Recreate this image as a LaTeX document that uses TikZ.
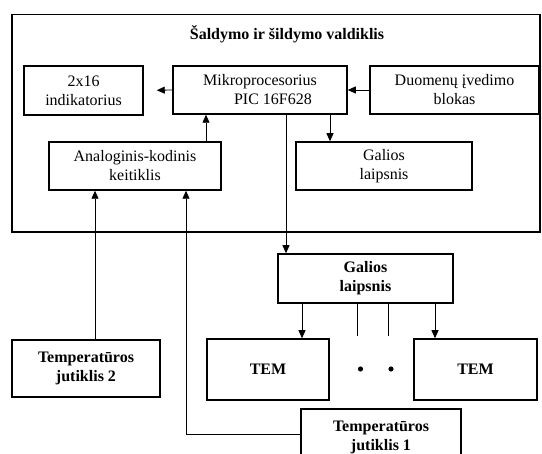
\documentclass[tikz,border=0pt]{standalone}
\usepackage{fontspec}
\setmainfont{Liberation Serif}
\usetikzlibrary{arrows.meta}
\begin{document}
\begin{tikzpicture}[x=1pt,y=-1pt]
  \tikzstyle{block}=[draw,line width=1.5pt,align=center,inner sep=0pt,
    font=\fontsize{16}{19}\selectfont]
  \tikzstyle{bblock}=[block,font=\fontsize{16}{19}\selectfont\bfseries]
  \tikzstyle{link}=[line width=0.8pt,-{Triangle[length=8pt,width=7pt]}]
  \useasboundingbox (0,0) rectangle (542,454);
  % controller frame
  \node[draw,line width=1.5pt,inner sep=0pt,minimum width=528pt,
    minimum height=217.5pt] (ctrl) at (276,123.25) {};
  \node[font=\fontsize{16}{19}\selectfont\bfseries] (title) at (287,34)
    {Šaldymo ir šildymo valdiklis};
  \node[block,minimum width=119pt,minimum height=49pt] (disp) at (83.5,90.5)
    {2x16\\indikatorius};
  \node[block,minimum width=174pt,minimum height=48pt] (mcu) at (260,90)
    {Mikroprocesorius\\\hspace*{26pt}PIC 16F628};
  \node[block,minimum width=169pt,minimum height=48pt] (input) at (454.5,90)
    {Duomenų įvedimo\\blokas};
  \node[block,minimum width=172pt,minimum height=48pt] (adc) at (135,166)
    {Analoginis-kodinis\\keitiklis};
  \node[block,minimum width=176pt,minimum height=48pt] (pwrin) at (384,166)
    {Galios\\laipsnis};
  % outside the controller
  \node[bblock,minimum width=175pt,minimum height=49pt] (pwr) at (365.5,278.5)
    {Galios\\laipsnis};
  \node[bblock,minimum width=122pt,minimum height=61pt] (teml) at (268,369.5) {TEM};
  \node[bblock,minimum width=123pt,minimum height=61pt] (temr) at (475.5,369.5) {TEM};
  \node[bblock,minimum width=148pt,minimum height=57pt] (sens2) at (86,368.5)
    {Temperatūros\\jutiklis 2};
  \node[bblock,minimum width=160pt,minimum height=57pt] (sens1) at (381,437.5)
    {Temperatūros\\jutiklis 1};
  \coordinate (stub1) at (357,336);
  \coordinate (stub2) at (388,336);
  % connectors
  \draw[link,shorten >=13pt] (mcu.west) -- (disp.east);
  \draw[link] (input.west) -- (mcu.east);
  \draw[link] ([xshift=71pt]adc.north) -- ([xshift=71pt]adc.north |- mcu.south);
  \draw[link] ([xshift=70pt]mcu.south) -- ([xshift=70pt]mcu.south |- pwrin.north);
  \draw[link] ([xshift=26pt]mcu.south) -- ([xshift=26pt]mcu.south |- pwr.north);
  \draw[link] ([xshift=34pt]teml.north |- pwr.south) -- ([xshift=34pt]teml.north);
  \draw[link] ([xshift=-40.5pt]temr.north |- pwr.south) -- ([xshift=-40.5pt]temr.north);
  \draw[line width=0.8pt] (stub1 |- pwr.south) -- (stub1);
  \draw[line width=0.8pt] (stub2 |- pwr.south) -- (stub2);
  \fill (360.5,369) circle (2.6pt) (391,369) circle (2.6pt);
  \draw[link] ([xshift=9pt]sens2.north) -- ([xshift=9pt]sens2.north |- adc.south);
  \draw[link] ([yshift=3.5pt]sens1.west) -| ([xshift=51pt]adc.south);
\end{tikzpicture}
\end{document}
